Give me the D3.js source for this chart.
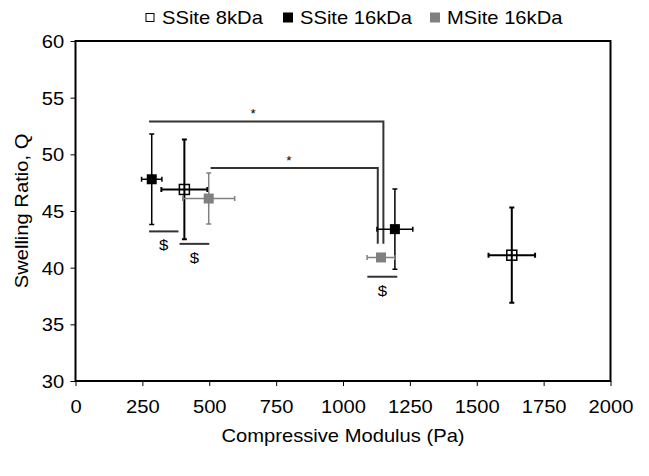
<!DOCTYPE html>
<html><head><meta charset="utf-8">
<script src="https://cdn.jsdelivr.net/npm/d3@7"></script>
<style>
html,body{margin:0;padding:0;background:#fff;}
text{font-family:"Liberation Sans",Arial,sans-serif;fill:#000;}
</style></head>
<body><svg id="chart" width="649" height="476"></svg>
<script>
// ---- data ----
const seriesNames = ["SSite 8kDa", "SSite 16kDa", "MSite 16kDa"];
const ssite8Modulus = [407, 1631];
const ssite8ModulusErr = [86, 87];
const ssite8Swelling = [46.9, 41.1];
const ssite8SwellingErr = [4.4, 4.2];
const ssite16Modulus = [285, 1194];
const ssite16ModulusErr = [38, 67];
const ssite16Swelling = [47.8, 43.4];
const ssite16SwellingErr = [4.0, 3.55];
const msite16Modulus = [498, 1142];
const msite16ModulusErr = [97, 52];
const msite16Swelling = [46.1, 40.9];
const msite16SwellingErr = [2.25, 0.3];
const xTicks = [0, 250, 500, 750, 1000, 1250, 1500, 1750, 2000];
const yTicks = [30, 35, 40, 45, 50, 55, 60];
// significance brackets: [x start, x end, y level, y end]
const starBrackets = [[275, 1151, 52.9, 42.1], [505, 1130, 48.8, 42.1]];
const starLabels = ["*", "*"];
const starLabelX = [664, 798];
// "$" lines: [x start, x end, y]
const dollarLines = [[275, 385, 43.2], [389, 500, 42.1], [1091, 1203, 39.2]];
const dollarLabels = ["$", "$", "$"];

// ---- styles ----
const colors = ["#000", "#000", "#808080"];
const fills = ["none", "#000", "#808080"];
const SX = 1.12; // horizontal stretch of text
const FS = 18;

const svg = d3.select("#chart");
const x = d3.scaleLinear().domain([0, 2000]).range([75.5, 610.5]);
const y = d3.scaleLinear().domain([30, 60]).range([381, 41]);

const series = [
  {name: seriesNames[0], mx: ssite8Modulus, mxe: ssite8ModulusErr, sy: ssite8Swelling, sye: ssite8SwellingErr},
  {name: seriesNames[1], mx: ssite16Modulus, mxe: ssite16ModulusErr, sy: ssite16Swelling, sye: ssite16SwellingErr},
  {name: seriesNames[2], mx: msite16Modulus, mxe: msite16ModulusErr, sy: msite16Swelling, sye: msite16SwellingErr}
];

// axes
const ya = svg.append("g").attr("transform", `translate(${x(0)},0)`)
  .call(d3.axisLeft(y).tickValues(yTicks).tickSize(5).tickPadding(5).tickFormat(d3.format("d")));
const xa = svg.append("g").attr("transform", `translate(0,${y(30)})`)
  .call(d3.axisBottom(x).tickValues(xTicks).tickSize(5).tickPadding(14).tickFormat(d3.format("d")));
[ya, xa].forEach(a => {
  a.select(".domain").remove();
  a.selectAll(".tick line").attr("stroke", "#000").attr("stroke-width", 1);
  a.selectAll("text").attr("font-size", FS).attr("fill", "#000")
    .attr("font-family", '"Liberation Sans",Arial,sans-serif')
    .attr("transform", `scale(${SX},1)`);
});
ya.selectAll("text").attr("dy", "0.36em");

// frame
svg.append("rect").attr("x", x(0)).attr("y", y(60))
  .attr("width", x(2000) - x(0)).attr("height", y(30) - y(60))
  .attr("fill", "none").attr("stroke", "#000").attr("stroke-width", 2);

// axis titles
svg.append("text").attr("transform", `translate(${(x(0) + x(2000)) / 2},442) scale(${SX},1)`)
  .attr("text-anchor", "middle").attr("font-size", FS).text("Compressive Modulus (Pa)");
svg.append("text").attr("transform", `translate(28,${(y(30) + y(60)) / 2}) rotate(-90) scale(${SX},1)`)
  .attr("text-anchor", "middle").attr("font-size", FS).text("Swelling Ratio, Q");

// significance brackets
const ann = svg.append("g").attr("stroke", "#333").attr("stroke-width", 2).attr("fill", "none");
starBrackets.forEach((b, i) => {
  ann.append("path").attr("d", `M${x(b[0])},${y(b[2])}H${x(b[1])}V${y(b[3])}`);
  svg.append("text").attr("transform", `translate(${x(starLabelX[i])},${y(b[2]) - 3}) scale(${SX},1)`)
    .attr("text-anchor", "middle").attr("font-size", 12).attr("fill", "#000").text(starLabels[i]);
});
dollarLines.forEach((d, i) => {
  ann.append("path").attr("d", `M${x(d[0])},${y(d[2])}H${x(d[1])}`);
  svg.append("text").attr("transform", `translate(${x((d[0] + d[1]) / 2)},${y(d[2]) + 19}) scale(${SX},1)`)
    .attr("text-anchor", "middle").attr("font-size", 15).attr("fill", "#000").text(dollarLabels[i]);
});

// error bars and markers
const cap = 2.5;
series.forEach((s, si) => {
  const g = svg.append("g");
  const col = colors[si];
  s.mx.forEach((mx, i) => {
    const cx = x(mx), cy = y(s.sy[i]);
    const x0 = x(mx - s.mxe[i]), x1 = x(mx + s.mxe[i]);
    const y0 = y(s.sy[i] + s.sye[i]), y1 = y(s.sy[i] - s.sye[i]);
    const p = `M${x0},${cy}H${x1}M${x0},${cy - cap}V${cy + cap}M${x1},${cy - cap}V${cy + cap}` +
      `M${cx},${y0}V${y1}M${cx - cap},${y0}H${cx + cap}M${cx - cap},${y1}H${cx + cap}`;
    g.append("path").attr("d", p).attr("stroke", col).attr("stroke-width", si === 0 ? 2 : 1.5).attr("fill", "none");
    g.append("rect").attr("x", cx - 5).attr("y", cy - 5).attr("width", 10).attr("height", 10)
      .attr("fill", fills[si]).attr("stroke", si === 0 ? "#000" : "none").attr("stroke-width", 1.5);
  });
});

// legend
const legendX = [150, 288, 435];
const lg = svg.append("g");
seriesNames.forEach((n, i) => {
  const sz = i === 0 ? 8 : 10;
  lg.append("rect").attr("x", legendX[i] - sz / 2).attr("y", 17.5 - sz / 2).attr("width", sz).attr("height", sz)
    .attr("fill", fills[i] === "none" ? "#fff" : fills[i]).attr("stroke", i === 0 ? "#000" : "none").attr("stroke-width", 1);
  lg.append("text").attr("transform", `translate(${legendX[i] + 12},24) scale(${SX},1)`)
    .attr("font-size", FS).text(n);
});
</script></body></html>
